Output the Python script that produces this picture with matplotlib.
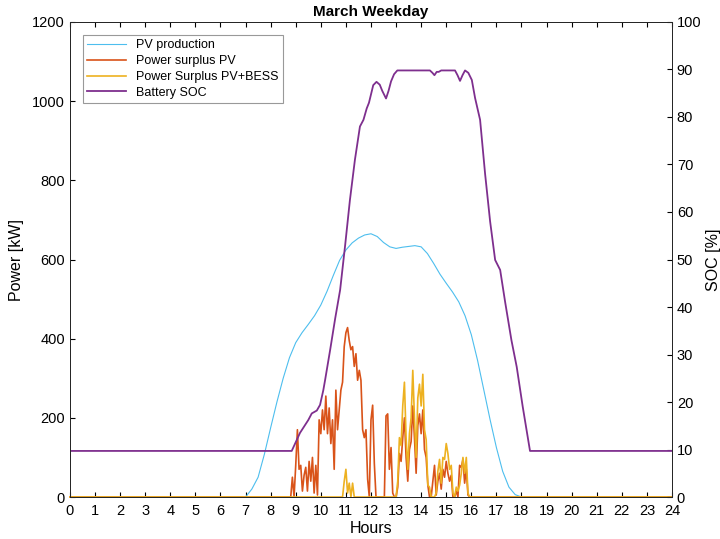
import numpy as np
import matplotlib
matplotlib.use("Agg")
import matplotlib.pyplot as plt

plt.rcParams['font.family'] = ['Liberation Sans', 'DejaVu Sans']

# PV production [kW] vs hours
pv_hours = [0, 7.0, 7.25, 7.5, 7.75, 8.0, 8.25, 8.5, 8.75, 9.0, 9.25, 9.5, 9.75, 10.0,
            10.25, 10.5, 10.75, 11.0, 11.25, 11.5, 11.75, 12.0, 12.25, 12.5, 12.75,
            13.0, 13.25, 13.5, 13.75, 14.0, 14.25, 14.5, 14.75, 15.0, 15.25, 15.5,
            15.75, 16.0, 16.25, 16.5, 16.75, 17.0, 17.25, 17.5, 17.75, 18.0, 24]
pv_kw = [0, 0, 20, 50, 108, 175, 240, 300, 352, 390, 415, 436, 458, 485,
         520, 560, 598, 624, 642, 654, 662, 665, 658, 643, 632,
         628, 631, 633, 635, 632, 615, 590, 563, 540, 518, 493,
         458, 410, 345, 270, 195, 125, 65, 25, 6, 0, 0]

# surplus series on a 4-minute grid from 8.8 h to 16.0 h
surplus_start = 8.8
surplus_pv = [0, 50, 0, 80, 170, 70, 80, 15, 55, 75,
              15, 90, 40, 100, 10, 80, 5, 195, 160, 220,
              170, 255, 160, 225, 135, 195, 70, 270, 170, 220,
              270, 290, 380, 415, 428, 395, 372, 380, 330, 362,
              295, 320, 295, 170, 150, 170, 45, 0, 195, 232,
              85, 0, 0, 0, 0, 0, 0, 205, 210, 70,
              125, 10, 0, 0, 25, 110, 90, 150, 200, 100,
              40, 120, 140, 230, 150, 60, 180, 210, 160, 220,
              120, 100, 30, 0, 0, 40, 80, 5, 40, 60,
              20, 70, 50, 90, 60, 40, 55, 0, 0, 15,
              0, 80, 75, 95, 35, 70, 5, 0, 0]
surplus_bess = [0, 0, 0, 0, 0, 0, 0, 0, 0, 0,
                0, 0, 0, 0, 0, 0, 0, 0, 0, 0,
                0, 0, 0, 0, 0, 0, 0, 0, 0, 0,
                0, 0, 40, 70, 10, 35, 0, 35, 0, 0,
                0, 0, 0, 0, 0, 0, 0, 0, 0, 0,
                0, 0, 0, 0, 0, 0, 0, 0, 0, 0,
                0, 0, 0, 0, 40, 150, 130, 230, 290, 150,
                70, 160, 200, 320, 200, 100, 250, 285, 230, 310,
                170, 145, 30, 25, 0, 0, 0, 10, 65, 95,
                35, 100, 95, 135, 110, 70, 80, 10, 0, 25,
                15, 30, 60, 100, 60, 100, 10, 0, 0]

# battery state of charge [%]
soc_hours = [0, 8.84, 9.04, 9.17, 9.5, 9.64, 9.84, 9.97, 10.1, 10.17, 10.37, 10.57,
             10.77, 10.97, 11.16, 11.36, 11.56, 11.7, 11.83, 11.92, 12.09, 12.22,
             12.35, 12.45, 12.6, 12.7, 12.8, 12.92, 13.05, 14.35, 14.45, 14.53,
             14.62, 14.7, 14.8, 15.35, 15.45, 15.55, 15.65, 15.75, 15.88, 16.02,
             16.15, 16.35, 16.55, 16.75, 16.95, 17.15, 17.35, 17.6, 17.81, 18.05,
             18.34, 24]
soc_pct = [9.7, 9.7, 12, 13.5, 16.2, 17.6, 18.2, 19.4, 22.5, 24.6, 30.9, 37.5,
           43.6, 53, 62.5, 71, 78, 79.4, 81.8, 83, 86.7, 87.4,
           86.8, 85.5, 83.9, 85.5, 87.5, 89, 89.8, 89.8, 89.3, 88.8,
           89.5, 89.5, 89.8, 89.8, 88.8, 87.6, 88.8, 89.8, 89.3, 87.8,
           84, 79.4, 68, 58, 49.9, 47.8, 41, 33, 27.4, 19,
           9.7, 9.7]

grid = surplus_start + np.arange(len(surplus_pv)) / 15
t_s = np.concatenate([[0], grid, [24]])
s_pv = np.concatenate([[0], surplus_pv, [0]])
s_bess = np.concatenate([[0], surplus_bess, [0]])

fig = plt.figure(figsize=(7.2, 5.39), dpi=100)
ax = fig.add_axes([0.0972, 0.0779, 0.8361, 0.8813])

l1, = ax.plot(pv_hours, pv_kw, color='#4DBEEE', linewidth=0.8, label='PV production')
l2, = ax.plot(t_s, s_pv, color='#D95319', linewidth=1.2, label='Power surplus PV', clip_on=False)
l3, = ax.plot(t_s, s_bess, color='#EDB120', linewidth=1.2, label='Power Surplus PV+BESS', clip_on=False)

ax.set_xlim(0, 24)
ax.set_ylim(0, 1200)
ax.set_xticks(range(0, 25))
ax.set_yticks(range(0, 1201, 200))
ax.tick_params(direction='in', length=3.5, labelsize=10.5, top=True, right=False)
ax.tick_params(axis='x', pad=5)
ax.set_xlabel('Hours', fontsize=11.5, labelpad=2)
ax.set_ylabel('Power [kW]', fontsize=11.5, labelpad=6)
ax.set_title('March Weekday', fontsize=11, fontweight='bold', pad=4)

ax2 = ax.twinx()
l4, = ax2.plot(soc_hours, soc_pct, color='#7E2F8E', linewidth=1.3, label='Battery SOC')
ax2.set_ylim(0, 100)
ax2.set_yticks(range(0, 101, 10))
ax2.tick_params(direction='in', length=3.5, labelsize=10.5)
ax2.set_ylabel('SOC [%]', fontsize=11.5, labelpad=3)

for a in (ax, ax2):
    for sp in a.spines.values():
        sp.set_linewidth(0.7)
        sp.set_color('#262626')

leg = ax2.legend(handles=[l1, l2, l3, l4], loc='upper left',
                 bbox_to_anchor=(0.0216, 0.9726), fontsize=9, fancybox=False,
                 framealpha=1, edgecolor='#999999', handlelength=3.1,
                 labelspacing=0.3, borderpad=0.35, borderaxespad=0)
leg.get_frame().set_linewidth(0.8)

fig.savefig('out.png', dpi=100)
